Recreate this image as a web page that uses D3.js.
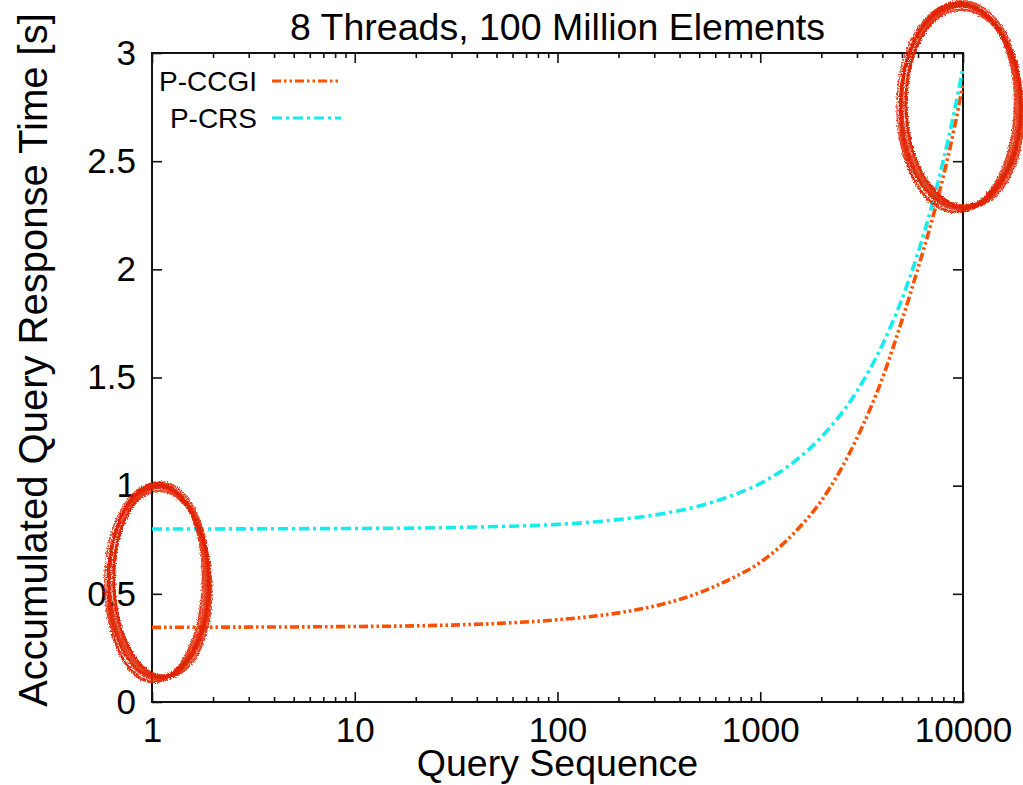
<!DOCTYPE html>
<html>
<head>
<meta charset="utf-8">
<script src="https://cdn.jsdelivr.net/npm/d3@7/dist/d3.min.js"></script>
<style>
  html, body { margin: 0; padding: 0; background: #fff; }
  svg { display: block; font-family: "Liberation Sans", Arial, Helvetica, sans-serif; }
</style>
</head>
<body>
<svg id="chart" width="1023" height="785"></svg>
<script>
// Query positions (log axis) at which the accumulated times are sampled
const queries = [1, 2, 5, 10, 20, 50, 100, 200, 300, 500, 700, 1000, 1500, 2000,
                 3000, 4000, 5000, 6000, 7000, 8000, 9000, 10000];

// Accumulated response time in seconds
const ccgiTimes = [0.345, 0.346, 0.347, 0.349, 0.352, 0.363, 0.380, 0.412, 0.443, 0.505,
                   0.565, 0.645, 0.790, 0.930, 1.220, 1.495, 1.765, 2.005, 2.220, 2.430,
                   2.640, 2.860];
const crsTimes  = [0.800, 0.800, 0.801, 0.802, 0.804, 0.811, 0.821, 0.843, 0.864, 0.906,
                   0.949, 1.010, 1.117, 1.224, 1.437, 1.650, 1.863, 2.076, 2.290, 2.503,
                   2.716, 2.930];

const seriesNames = ["P-CCGI", "P-CRS"];
const xTickValues = [1, 10, 100, 1000, 10000];
const yTickValues = [0, 0.5, 1, 1.5, 2, 2.5, 3];

// Circled regions: [xMin, xMax] in queries, [yMin, yMax] in seconds
const markStart = { x: [0.585, 1.93], y: [0.088, 1.026] };
const markEnd   = { x: [4725, 19540], y: [2.26, 3.25] };

const margin = { left: 152, right: 60, top: 53, bottom: 83 };
const W = 1023, H = 785;
const svg = d3.select("#chart");

const x = d3.scaleLog().domain([1, 10000]).range([margin.left, W - margin.right]);
const y = d3.scaleLinear().domain([0, 3]).range([H - margin.bottom, margin.top]);

const x0 = x.range()[0], x1 = x.range()[1];
const y0 = y.range()[0], y1 = y.range()[1];

// minor ticks 2..9 in each decade
const minorTicks = [];
for (let d = 1; d < 10000; d *= 10) for (let k = 2; k <= 9; k++) minorTicks.push(d * k);

const axisStroke = "#111";

function styleAxis(g) {
  g.select(".domain").remove();
  g.selectAll(".tick line").attr("stroke", axisStroke).attr("stroke-width", 1.6);
  g.selectAll(".tick text").attr("fill", "#000").attr("font-size", 35)
    .attr("font-family", "'Liberation Sans', Arial, sans-serif");
}

// bottom axis
svg.append("g").attr("transform", `translate(0,${y0})`)
  .call(d3.axisBottom(x).tickValues(xTickValues).tickFormat(d3.format("d"))
    .tickSize(-10).tickPadding(15))
  .call(styleAxis);
svg.append("g").attr("transform", `translate(0,${y0})`)
  .call(d3.axisBottom(x).tickValues(minorTicks).tickFormat("").tickSize(-5))
  .call(styleAxis);
// top axis (mirrored ticks)
svg.append("g").attr("transform", `translate(0,${y1})`)
  .call(d3.axisTop(x).tickValues(xTickValues).tickFormat("").tickSize(-10))
  .call(styleAxis);
svg.append("g").attr("transform", `translate(0,${y1})`)
  .call(d3.axisTop(x).tickValues(minorTicks).tickFormat("").tickSize(-5))
  .call(styleAxis);
// left axis
svg.append("g").attr("transform", `translate(${x0},0)`)
  .call(d3.axisLeft(y).tickValues(yTickValues).tickFormat(d3.format("~g"))
    .tickSize(-10).tickPadding(16))
  .call(styleAxis);
// right axis (mirrored ticks)
svg.append("g").attr("transform", `translate(${x1},0)`)
  .call(d3.axisRight(y).tickValues(yTickValues).tickFormat("").tickSize(-10))
  .call(styleAxis);

// plot frame
svg.append("rect")
  .attr("x", x0).attr("y", y1).attr("width", x1 - x0).attr("height", y0 - y1)
  .attr("fill", "none").attr("stroke", axisStroke).attr("stroke-width", 2);

// series
const colors = ["#ff5000", "#14ecf0"];
const dashes = ["9,3,2.5,3,2.5,3", "10,4,3,4"];
const line = d3.line().x(d => x(d[0])).y(d => y(d[1])).curve(d3.curveMonotoneX);
[ccgiTimes, crsTimes].forEach((vals, i) => {
  svg.append("path")
    .datum(queries.map((q, j) => [q, vals[j]]))
    .attr("d", line)
    .attr("fill", "none")
    .attr("stroke", colors[i])
    .attr("stroke-width", 3.6)
    .attr("stroke-dasharray", dashes[i]);
});

// legend
const legendRows = [81, 118];
seriesNames.forEach((name, i) => {
  svg.append("text")
    .attr("x", 257).attr("y", legendRows[i]).attr("dy", "0.36em")
    .attr("text-anchor", "end").attr("font-size", 28).attr("fill", "#000")
    .text(name);
  svg.append("line")
    .attr("x1", 272).attr("x2", 341)
    .attr("y1", legendRows[i]).attr("y2", legendRows[i])
    .attr("stroke", colors[i]).attr("stroke-width", 3.2)
    .attr("stroke-dasharray", dashes[i]);
});

// titles
svg.append("text").attr("x", (x0 + x1) / 2).attr("y", 40)
  .attr("text-anchor", "middle").attr("font-size", 37.5).attr("fill", "#000")
  .text("8 Threads, 100 Million Elements");
svg.append("text").attr("x", (x0 + x1) / 2).attr("y", 776)
  .attr("text-anchor", "middle").attr("font-size", 37.5).attr("fill", "#000")
  .text("Query Sequence");
svg.append("text").attr("transform", "translate(47,360) rotate(-90)")
  .attr("text-anchor", "middle").attr("font-size", 40).attr("fill", "#000")
  .text("Accumulated Query Response Time [s]");

// hand-drawn style circles around the start and end of the curves
const defs = svg.append("defs");
const f = defs.append("filter").attr("id", "rough")
  .attr("x", "-20%").attr("y", "-20%").attr("width", "140%").attr("height", "140%");
f.append("feTurbulence").attr("type", "fractalNoise").attr("baseFrequency", 0.8)
  .attr("numOctaves", 2).attr("seed", 3).attr("result", "noise");
f.append("feDisplacementMap").attr("in", "SourceGraphic").attr("in2", "noise")
  .attr("scale", 4).attr("xChannelSelector", "R").attr("yChannelSelector", "G");

// slightly offset passes of the pen: [dx, dy, drx, dry, width, angle]
const penPasses = [
  [0, 0, 0, 0, 3.5, 0],
  [2, 1, 1, -2, 3, -2],
  [-2, 2, -1, 1, 2.5, 2],
  [4, 0, -1, -3, 3.5, -1],
  [1, -2, 2, 0, 2, 1],
  [5, 3, 0, -4, 2.5, -3],
  [-1, 1, 3, 2, 1.5, 0]
];

function drawMark(mark) {
  const px0 = x(mark.x[0]), px1 = x(mark.x[1]);
  const py0 = y(mark.y[1]), py1 = y(mark.y[0]);
  const cx = (px0 + px1) / 2, cy = (py0 + py1) / 2;
  const rx = (px1 - px0) / 2, ry = (py1 - py0) / 2;
  const g = svg.append("g").attr("filter", "url(#rough)");
  penPasses.forEach(p => {
    g.append("ellipse")
      .attr("cx", cx + p[0]).attr("cy", cy + p[1])
      .attr("rx", rx - 4 + p[2]).attr("ry", ry - 4 + p[3])
      .attr("transform", `rotate(${p[5]},${cx},${cy})`)
      .attr("fill", "none")
      .attr("stroke", "#e02400")
      .attr("stroke-opacity", 0.85)
      .attr("stroke-width", p[4]);
  });
}
drawMark(markStart);
drawMark(markEnd);
</script>
</body>
</html>
